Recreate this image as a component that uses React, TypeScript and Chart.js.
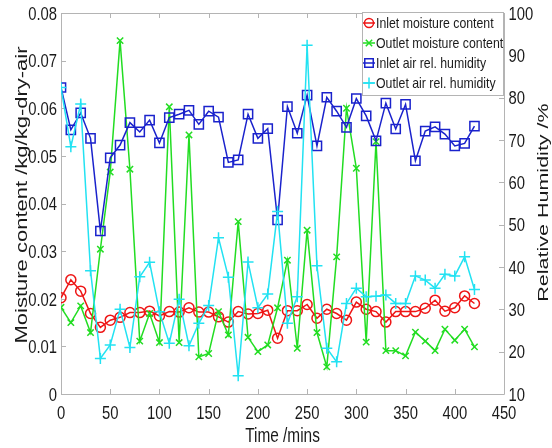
import React, { useEffect, useRef } from 'react';
import { Chart, registerables } from 'chart.js';
import { drawPoint } from 'chart.js/helpers';

Chart.register(...registerables);

// ---- data ----
const times = [0, 10, 20, 30, 40, 50, 60, 70, 80, 90, 100, 110, 120, 130, 140, 150, 160, 170, 180, 190, 200, 210, 220, 230, 240, 250, 260, 270, 280, 290, 300, 310, 320, 330, 340, 350, 360, 370, 380, 390, 400, 410, 420];

const inletMoisture = [0.0202, 0.0240, 0.0216, 0.0169, 0.0140, 0.0155, 0.0161, 0.0171, 0.0171, 0.0174, 0.0164, 0.0173, 0.0172, 0.0181, 0.0172, 0.0172, 0.0162, 0.0151, 0.0173, 0.0168, 0.0169, 0.0176, 0.0117, 0.0175, 0.0175, 0.0188, 0.0159, 0.0178, 0.0169, 0.0155, 0.0193, 0.0178, 0.0173, 0.0151, 0.0173, 0.0173, 0.0173, 0.0180, 0.0197, 0.0174, 0.0181, 0.0206, 0.0190];

const outletMoisture = [0.0182, 0.0150, 0.0185, 0.0129, 0.0304, 0.0466, 0.0742, 0.0472, 0.0111, 0.0169, 0.0108, 0.0603, 0.0108, 0.0544, 0.0078, 0.0085, 0.0173, 0.0124, 0.0362, 0.0119, 0.0089, 0.0103, 0.0181, 0.0281, 0.0096, 0.0344, 0.0129, 0.0057, 0.0288, 0.0600, 0.0474, 0.0109, 0.0530, 0.0091, 0.0091, 0.0080, 0.0130, 0.0111, 0.0091, 0.0136, 0.0113, 0.0136, 0.0099];

const inletRH = [82.4, 72.4, 76.4, 70.4, 48.5, 65.8, 68.8, 74.1, 71.9, 74.7, 69.3, 75.3, 76.1, 77.0, 73.7, 76.8, 75.4, 64.7, 65.3, 76.1, 70.4, 72.7, 51.1, 77.9, 71.6, 80.6, 68.6, 80.1, 76.8, 73.0, 79.8, 75.7, 69.8, 78.7, 72.6, 78.4, 65.1, 72.1, 73.1, 71.4, 68.6, 69.2, 73.3];

const outletRH = [82.4, 68.4, 78.5, 39.1, 18.4, 21.6, 30.0, 21.0, 37.7, 41.1, 29.4, 22.0, 32.4, 21.4, 26.7, 30.9, 46.9, 37.6, 14.3, 41.2, 30.4, 33.6, 53.1, 26.7, 33.0, 92.4, 40.3, 20.8, 17.6, 31.4, 35.0, 33.0, 33.1, 33.4, 31.4, 31.4, 37.9, 36.9, 35.0, 38.3, 37.9, 42.4, 34.7];

const seriesNames = ['Inlet moisture content', 'Outlet moisture content', 'Inlet air rel. humidity', 'Outlet air rel. humidity'];
const xTitle = 'Time /mins';
const yLeftTitle = 'Moisture content /kg/kg-dry-air';
const yRightTitle = 'Relative Humidity /%';

// ---- styling ----
const FAMILY = '"Liberation Sans", Arial, Helvetica, sans-serif';
const TEXT = '#1a1a1a';
const AXIS = '#b4b4b4';
const RED = '#ee1515';
const GREEN = '#22dd22';
const BLUE = '#1a22cc';
const CYAN = '#22e2f2';

const toPoints = (ys: number[]) => times.map((t, i) => ({ x: t, y: ys[i] }));

function drawText(ctx: CanvasRenderingContext2D, text: string, x: number, y: number, size: number, sx: number, align: CanvasTextAlign, baseline: CanvasTextBaseline = 'alphabetic') {
  ctx.save();
  ctx.translate(x, y);
  ctx.scale(sx, 1);
  ctx.font = `${size}px ${FAMILY}`;
  ctx.textAlign = align;
  ctx.textBaseline = baseline;
  ctx.fillStyle = TEXT;
  ctx.fillText(text, 0, 0);
  ctx.restore();
}

const fmtLeft = (v: number) => (Math.abs(v) < 1e-9 ? '0' : v.toFixed(2));

const framePlugin = {
  id: 'frameAndDecor',
  beforeDatasetsDraw(chart: any) {
    const { ctx, chartArea: a, scales } = chart;
    ctx.save();
    ctx.strokeStyle = AXIS;
    ctx.lineWidth = 1;
    ctx.beginPath();
    ctx.rect(Math.round(a.left) + 0.5, Math.round(a.top) + 0.5, Math.round(a.right - a.left), Math.round(a.bottom - a.top));
    const tl = 5;
    scales.x.ticks.forEach((t: any) => {
      const px = Math.round(scales.x.getPixelForValue(t.value)) + 0.5;
      ctx.moveTo(px, a.bottom);
      ctx.lineTo(px, a.bottom - tl);
      ctx.moveTo(px, a.top);
      ctx.lineTo(px, a.top + tl);
    });
    scales.y.ticks.forEach((t: any) => {
      const py = Math.round(scales.y.getPixelForValue(t.value)) + 0.5;
      ctx.moveTo(a.left, py);
      ctx.lineTo(a.left + tl, py);
    });
    scales.y1.ticks.forEach((t: any) => {
      const py = Math.round(scales.y1.getPixelForValue(t.value)) + 0.5;
      ctx.moveTo(a.right, py);
      ctx.lineTo(a.right - tl, py);
    });
    ctx.stroke();
    ctx.restore();
  },
  afterDraw(chart: any) {
    const { ctx, chartArea: a, scales } = chart;
    ctx.save();
    // tick labels
    const TS = 19, TX = 0.78;
    scales.x.ticks.forEach((t: any) => {
      drawText(ctx, String(t.value), scales.x.getPixelForValue(t.value), 418.5, TS, TX, 'center');
    });
    scales.y.ticks.forEach((t: any) => {
      drawText(ctx, fmtLeft(t.value), a.left - 4, scales.y.getPixelForValue(t.value) + 6.8, TS, TX, 'right');
    });
    scales.y1.ticks.forEach((t: any) => {
      drawText(ctx, String(t.value), a.right + 4.5, scales.y1.getPixelForValue(t.value) + 6.8, TS, TX, 'left');
    });
    // x title
    drawText(ctx, xTitle, 282.5, 442, 19.5, 0.79, 'center');
    // left title
    ctx.fillStyle = TEXT;
    ctx.save();
    ctx.translate(27, 195);
    ctx.rotate(-Math.PI / 2);
    ctx.scale(1, 0.72);
    ctx.font = `22px ${FAMILY}`;
    ctx.textAlign = 'center';
    ctx.textBaseline = 'alphabetic';
    ctx.fillText(yLeftTitle, 0, 0);
    ctx.restore();
    // right title
    ctx.save();
    ctx.translate(548, 202.5);
    ctx.rotate(-Math.PI / 2);
    ctx.scale(1, 0.72);
    ctx.font = `21.5px ${FAMILY}`;
    ctx.textAlign = 'center';
    ctx.textBaseline = 'alphabetic';
    ctx.fillText(yRightTitle, 0, 0);
    ctx.restore();

    // legend
    const lx = 362.5, ly = 12.5, lw = 141, lh = 83;
    ctx.fillStyle = '#ffffff';
    ctx.fillRect(lx, ly, lw, lh);
    ctx.strokeStyle = AXIS;
    ctx.lineWidth = 1;
    ctx.strokeRect(lx, ly, lw, lh);
    const dsets = chart.data.datasets;
    dsets.forEach((ds: any, i: number) => {
      const y = 23 + i * 20;
      ctx.strokeStyle = ds.borderColor;
      ctx.lineWidth = 1.5;
      ctx.beginPath();
      ctx.moveTo(363, y);
      ctx.lineTo(375, y);
      ctx.stroke();
      ctx.fillStyle = 'rgba(0,0,0,0)';
      drawPoint(ctx, { pointStyle: ds.pointStyle, radius: ds.legendRadius, borderWidth: 1.5, rotation: 0 } as any, 369, y);
      drawText(ctx, seriesNames[i], 376, y + 5.4, 15, 0.82, 'left');
    });
    ctx.restore();
  },
};

export default function App() {
  const ref = useRef<HTMLCanvasElement | null>(null);
  useEffect(() => {
    if (!ref.current) return;
    const chart = new Chart(ref.current, {
      type: 'line',
      data: {
        datasets: [
          {
            label: seriesNames[0], data: toPoints(inletMoisture), yAxisID: 'y',
            borderColor: RED, backgroundColor: 'rgba(0,0,0,0)', borderWidth: 1.5,
            pointStyle: 'circle', pointRadius: 5, pointBorderWidth: 1.5,
            pointBorderColor: RED, pointBackgroundColor: 'rgba(0,0,0,0)', order: 4,
            legendRadius: 4.5,
          } as any,
          {
            label: seriesNames[1], data: toPoints(outletMoisture), yAxisID: 'y',
            borderColor: GREEN, backgroundColor: 'rgba(0,0,0,0)', borderWidth: 1.5,
            pointStyle: 'crossRot', pointRadius: 4.5, pointBorderWidth: 1.5,
            pointBorderColor: GREEN, pointBackgroundColor: 'rgba(0,0,0,0)', order: 3,
            legendRadius: 4.5,
          } as any,
          {
            label: seriesNames[2], data: toPoints(inletRH), yAxisID: 'y1',
            borderColor: BLUE, backgroundColor: 'rgba(0,0,0,0)', borderWidth: 1.5,
            pointStyle: 'rect', pointRadius: 6.5, pointBorderWidth: 1.5,
            pointBorderColor: BLUE, pointBackgroundColor: 'rgba(0,0,0,0)', order: 2,
            legendRadius: 6,
          } as any,
          {
            label: seriesNames[3], data: toPoints(outletRH), yAxisID: 'y1',
            borderColor: CYAN, backgroundColor: 'rgba(0,0,0,0)', borderWidth: 1.5,
            pointStyle: 'cross', pointRadius: 5.5, pointBorderWidth: 1.5,
            pointBorderColor: CYAN, pointBackgroundColor: 'rgba(0,0,0,0)', order: 1,
            legendRadius: 5.5,
          } as any,
        ],
      },
      options: {
        animation: false,
        responsive: false,
        devicePixelRatio: 1,
        layout: { padding: { top: 13, left: 0, right: 0, bottom: 0 } },
        plugins: { legend: { display: false }, tooltip: { enabled: false } },
        elements: { line: { tension: 0, fill: false } },
        scales: {
          x: {
            type: 'linear', min: 0, max: 450,
            grid: { display: false, drawTicks: false },
            border: { display: false },
            ticks: { stepSize: 50, display: false },
            afterFit: (s: any) => { s.height = 54; },
          },
          y: {
            type: 'linear', position: 'left', min: 0, max: 0.08,
            grid: { display: false, drawTicks: false },
            border: { display: false },
            ticks: { stepSize: 0.01, display: false },
            afterFit: (s: any) => { s.width = 61; },
          },
          y1: {
            type: 'linear', position: 'right', min: 10, max: 100,
            grid: { display: false, drawTicks: false },
            border: { display: false },
            ticks: { stepSize: 10, display: false },
            afterFit: (s: any) => { s.width = 48; },
          },
        },
      } as any,
      plugins: [framePlugin],
    });
    return () => chart.destroy();
  }, []);
  return (
    <div style={{ position: 'absolute', left: 0, top: 0, width: 552, height: 448, background: '#fff' }}>
      <canvas ref={ref} width={552} height={448} style={{ display: 'block', width: 552, height: 448 }} />
    </div>
  );
}
